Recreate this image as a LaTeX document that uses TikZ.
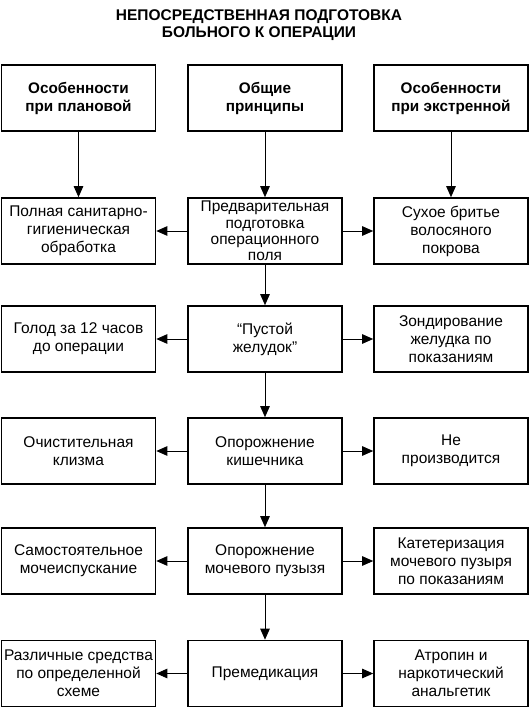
\documentclass[tikz,border=0pt]{standalone}
\usepackage{fontspec}
\setmainfont{Liberation Sans}
\usetikzlibrary{arrows.meta}
\begin{document}
\begin{tikzpicture}[x=1pt,y=-1pt,
 box/.style={draw, line width=1.6pt, minimum width=154pt, minimum height=66pt, align=center, inner sep=1pt, font=\fontsize{15.5}{18}\selectfont},
 hbox/.style={box, font=\bfseries\fontsize{15.3}{18}\selectfont},
 tight/.style={font=\fontsize{15.5}{16.2}\selectfont},
 arr/.style={-{Triangle[length=11pt,width=9.5pt]}, line width=0.9pt},
 ttl/.style={align=center, font=\bfseries\fontsize{15.5}{17}\selectfont}]
\useasboundingbox (0,0) rectangle (530,707);
\node[ttl] (title) at (259,25.5) {НЕПОСРЕДСТВЕННАЯ ПОДГОТОВКА\\БОЛЬНОГО К ОПЕРАЦИИ};
% row 1
\node[hbox] (h1) at (78.5,98) {Особенности\\при плановой};
\node[hbox] (h2) at (265,98) {Общие\\принципы};
\node[hbox] (h3) at (451,98) {Особенности\\при экстренной};
% row 2
\node[box] (a1) at (78.5,231) {Полная санитарно-\\гигиеническая\\обработка};
\node[box,tight] (a2) at (265,231) {Предварительная\\подготовка\\операционного\\поля};
\node[box] (a3) at (451,231) {Сухое бритье\\волосяного\\покрова};
% row 3
\node[box] (b1) at (78.5,339) {Голод за 12 часов\\до операции};
\node[box] (b2) at (265,339) {“Пустой\\желудок”};
\node[box] (b3) at (451,339) {Зондирование\\желудка по\\показаниям};
% row 4
\node[box] (c1) at (78.5,451) {Очистительная\\клизма};
\node[box] (c2) at (265,451) {Опорожнение\\кишечника};
\node[box] (c3) at (451,451) {Не\\производится};
% row 5
\node[box] (d1) at (78.5,561) {Самостоятельное\\мочеиспускание};
\node[box] (d2) at (265,561) {Опорожнение\\мочевого пузызя};
\node[box] (d3) at (451,561) {Катетеризация\\мочевого пузыря\\по показаниям};
% row 6
\node[box] (e1) at (78.5,673.5) {Различные средства\\по определенной\\схеме};
\node[box] (e2) at (265,673.5) {Премедикация};
\node[box] (e3) at (451,673.5) {Атропин и\\наркотический\\анальгетик};
% vertical arrows
\draw[arr] (h1) -- (a1);
\draw[arr] (h2) -- (a2);
\draw[arr] (h3) -- (a3);
\draw[arr] (a2) -- (b2);
\draw[arr] (b2) -- (c2);
\draw[arr] (c2) -- (d2);
\draw[arr] (d2) -- (e2);
% horizontal arrows
\foreach \r in {a,b,c,d,e}{
  \draw[arr] (\r2) -- (\r1);
  \draw[arr] (\r2) -- (\r3);
}
\end{tikzpicture}
\end{document}
